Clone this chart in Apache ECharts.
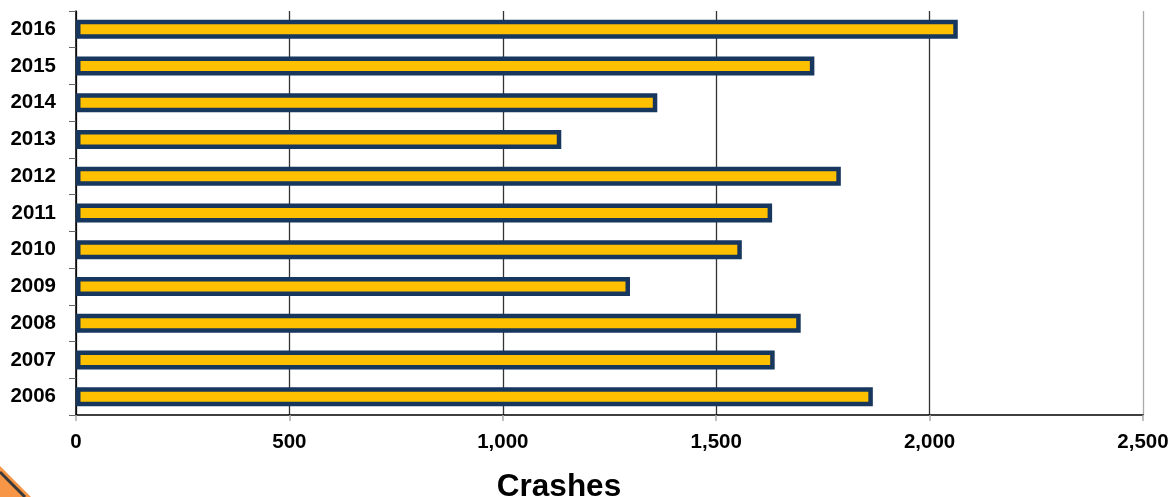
<!DOCTYPE html>
<html><head><meta charset="utf-8">
<style>html,body{margin:0;padding:0;background:#fff}#c{width:1173px;height:497px}</style>
<script src="https://cdn.jsdelivr.net/npm/echarts@6/dist/echarts.min.js"></script>
</head><body><div id="c"></div>
<script>
const years=['2006','2007','2008','2009','2010','2011','2012','2013','2014','2015','2016'];
const crashes=[1867,1637,1698,1298,1560,1631,1792,1137,1362,1730,2066];
const axisTicks=[0,500,1000,1500,2000,2500];
const axisTitle='Crashes';
const font='Liberation Sans';
const chart=echarts.init(document.getElementById('c'),null,{renderer:'canvas'});
chart.setOption({
  animation:false,
  backgroundColor:'#fff',
  grid:{left:76,right:30,top:11,bottom:82,containLabel:false,outerBoundsMode:'none'},
  xAxis:{type:'value',min:axisTicks[0],max:axisTicks[axisTicks.length-1],interval:500,
    name:axisTitle,nameLocation:'middle',nameGap:56,
    nameTextStyle:{fontFamily:font,fontWeight:'bold',fontSize:31.5,color:'#000',padding:[0,101,0,0]},
    axisLine:{show:true,lineStyle:{color:'#000',width:1.5}},
    axisTick:{show:true,length:6,lineStyle:{color:'#aaa',width:1.5}},
    axisLabel:{fontFamily:font,fontWeight:'bold',fontSize:20.5,color:'#000',margin:17,
      showMinLabel:true,showMaxLabel:true,
      formatter:v=>v.toLocaleString('en-US')},
    splitLine:{show:true,lineStyle:{color:['#333','#333','#333','#333','#333','#aaa'],width:1.3}}},
  yAxis:{type:'category',data:years,
    axisLine:{show:true,onZero:false,lineStyle:{color:'#000',width:1.5}},
    axisTick:{show:true,length:7,alignWithLabel:false,lineStyle:{color:'#666',width:1}},
    axisLabel:{fontFamily:font,fontWeight:'bold',fontSize:20.5,color:'#000',margin:20,padding:[4,0,0,0]}},
  series:[{type:'bar',data:crashes,barWidth:19,
    itemStyle:{color:'#FFC000',borderColor:'#17375E',borderWidth:4.5}}],
  graphic:[
   {type:'polygon',silent:true,z:10,shape:{points:[[0,466],[31,497],[0,497]]},
    style:{fill:'#F79646',stroke:null}},
   {type:'polyline',silent:true,z:11,shape:{points:[[0,472],[25,497]]},
    style:{stroke:'#3a3a3a',lineWidth:3,fill:null}}]
});
</script></body></html>
